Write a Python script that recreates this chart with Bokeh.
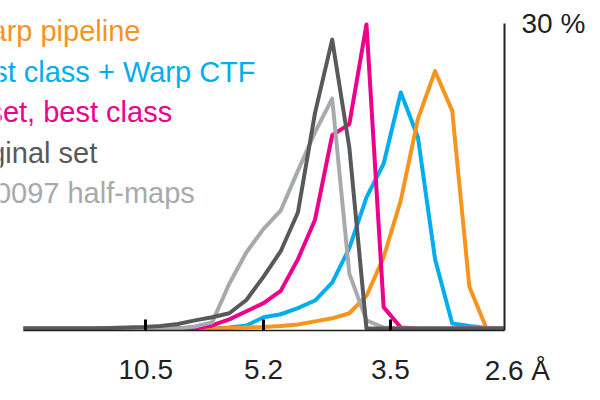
from bokeh.plotting import figure
from bokeh.models import Range1d, FixedTicker, Label
from bokeh.embed import file_html
from bokeh.resources import INLINE

# ---- data (percent of voxels per resolution bin) ----
bins = list(range(29))
tick_bins = [7.13, 14.0, 21.4, 28.0]
tick_labels = ["10.5", "5.2", "3.5", "2.6 Å"]
y_top_pct = 30

warp_pipeline = [0, 0, 0, 0, 0, 0, 0, 0, 0, 0, 0, 0, 0.05, 0.1, 0.15, 0.25, 0.4, 0.7,
                 1.0, 1.5, 3.2, 7.0, 12.6, 20.6, 25.3, 21.4, 4.1, 0, 0]
best_class_warp_ctf = [0, 0, 0, 0, 0, 0, 0, 0, 0, 0, 0, 0, 0.1, 0.3, 1.1, 1.4, 2.0, 2.75,
                       4.5, 7.9, 12.9, 16.2, 23.2, 18.8, 6.8, 0.5, 0.25, 0.05, 0]
best_class = [0, 0, 0, 0, 0, 0, 0, 0, 0, 0, 0, 0.3, 0.9, 1.7, 2.5, 3.7, 6.8, 10.7,
              19.0, 20.1, 29.9, 2.1, 0.1, 0, 0, 0, 0, 0, 0]
original_set = [0, 0, 0, 0, 0, 0.05, 0.1, 0.15, 0.25, 0.45, 0.8, 1.1, 1.5, 2.8, 5.1, 7.6,
                11.4, 21.2, 28.4, 17.8, 0, 0, 0, 0, 0, 0, 0, 0, 0]
half_maps = [0, 0, 0, 0, 0, 0, 0, 0, 0, 0, 0.2, 0.6, 4.4, 7.5, 9.8, 11.6, 15.5, 19.3,
             22.6, 5.4, 0.8, 0.1, 0, 0, 0, 0, 0, 0, 0]

series_names = ["Warp pipeline", "Best class + Warp CTF", "Original set, best class",
                "Original set", "EMD-0097 half-maps"]
series_values = [warp_pipeline, best_class_warp_ctf, best_class, original_set, half_maps]
series_colors = ["#F7941D", "#00AEEF", "#EC008C", "#58595B", "#A7A9AC"]

# ---- styling / layout ----
INK = "#231F20"
FONT = "Liberation Sans"
FS = "28px"

p = figure(width=592, height=392, output_backend="svg", toolbar_location=None,
           x_range=Range1d(-1.341, 33.18), y_range=Range1d(-6.293, 32.25),
           y_axis_location="right")
p.min_border = 0
p.min_border_left = 0
p.min_border_right = 0
p.min_border_top = 0
p.min_border_bottom = 0
p.outline_line_color = None
p.grid.visible = False
p.background_fill_color = "white"
p.border_fill_color = "white"

# draw order (bottom -> top)
draw_order = [1, 0, 2, 4, 3]
for k in draw_order:
    p.line(bins, series_values[k], line_color=series_colors[k], line_width=4,
           line_join="round")

# x axis (drawn at a fixed level just under zero)
xa = p.xaxis[0]
xa.fixed_location = -0.2
xa.bounds = (0, 28.05)
xa.ticker = FixedTicker(ticks=tick_bins[:3])
xa.major_label_overrides = {t: lab for t, lab in zip(tick_bins[:3], tick_labels[:3])}
xa.axis_line_color = INK
xa.axis_line_width = 1.5
xa.major_tick_in = 11
xa.major_tick_out = 0
xa.major_tick_line_width = 3
xa.major_tick_line_color = "black"
xa.minor_tick_line_color = None
xa.major_label_text_font = FONT
xa.major_label_text_font_size = FS
xa.major_label_text_color = INK
xa.major_label_standoff = 29

# last x label with unit, anchored at the end of the axis
p.add_layout(Label(x=tick_bins[3], y=-4.13, text=tick_labels[3], text_align="left",
                   text_baseline="middle", x_offset=-19, text_font=FONT,
                   text_font_size=FS, text_color=INK))

# right y axis
ya = p.yaxis[0]
ya.fixed_location = 28.05
ya.bounds = (-0.2, y_top_pct)
ya.ticker = FixedTicker(ticks=[y_top_pct])
ya.major_label_overrides = {y_top_pct: f"{y_top_pct} %"}
ya.axis_line_color = INK
ya.axis_line_width = 2
ya.major_tick_in = 0
ya.major_tick_out = 0
ya.minor_tick_line_color = None
ya.major_label_text_font = FONT
ya.major_label_text_font_size = FS
ya.major_label_text_color = INK
ya.major_label_standoff = 17

# legend as coloured text (right ends and vertical centres in data units)
legend_x = [6.82, 13.53, 8.67, 4.30, 9.99]
legend_y = [29.30, 25.20, 21.27, 17.24, 13.30]
for name, col, lx, ly in zip(series_names, series_colors, legend_x, legend_y):
    p.add_layout(Label(x=lx, y=ly, text=name, text_align="right",
                       text_baseline="middle", text_font=FONT,
                       text_font_size="29px", text_color=col))

open("out.html", "w").write(file_html(p, INLINE))
